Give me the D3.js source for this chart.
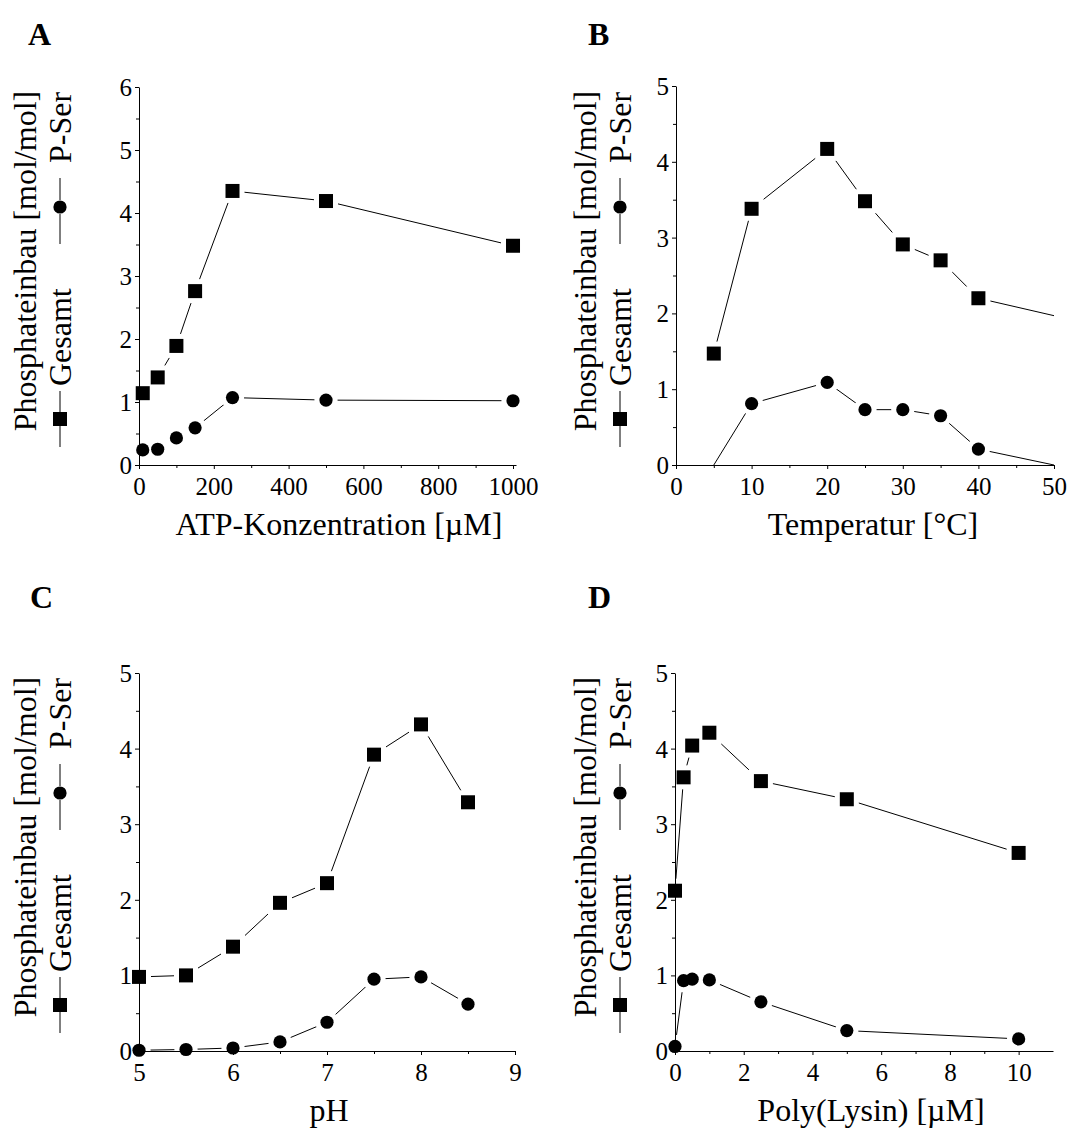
<!DOCTYPE html>
<html><head><meta charset="utf-8">
<script src="https://cdn.jsdelivr.net/npm/d3@7"></script>
<style>
body{margin:0;background:#fff}
svg text{font-family:"Liberation Serif","Times New Roman",serif !important;fill:#000}
</style>
</head><body>
<svg id="c" width="1069" height="1129" font-family="Liberation Serif"></svg>
<script>
// ---------- data ----------
const panelLetters = ["A", "B", "C", "D"];
const xTitles = ["ATP-Konzentration [µM]", "Temperatur [°C]", "pH", "Poly(Lysin) [µM]"];
const yTitle = "Phosphateinbau [mol/mol]";
const seriesNames = ["Gesamt", "P-Ser"];

const atpX       = [10, 50, 100, 150, 250, 500, 1000];
const atpGesamt  = [1.14, 1.39, 1.89, 2.76, 4.35, 4.19, 3.48];
const atpPSer    = [0.24, 0.25, 0.43, 0.59, 1.07, 1.03, 1.02];
const atpGShown  = [1, 1, 1, 1, 1, 1, 1];
const atpPShown  = [1, 1, 1, 1, 1, 1, 1];

const tempX      = [5, 10, 20, 25, 30, 35, 40, 50];
const tempGesamt = [1.47, 3.38, 4.17, 3.48, 2.91, 2.70, 2.20, 1.97];
const tempPSer   = [0.00, 0.81, 1.09, 0.73, 0.73, 0.65, 0.21, 0.00];
const tempGShown = [1, 1, 1, 1, 1, 1, 1, 0];
const tempPShown = [0, 1, 1, 1, 1, 1, 1, 0];

const phX        = [5, 5.5, 6, 6.5, 7, 7.5, 8, 8.5];
const phGesamt   = [0.98, 1.00, 1.38, 1.96, 2.22, 3.92, 4.32, 3.29];
const phPSer     = [0.01, 0.02, 0.04, 0.12, 0.38, 0.95, 0.98, 0.62];
const phGShown   = [1, 1, 1, 1, 1, 1, 1, 1];
const phPShown   = [1, 1, 1, 1, 1, 1, 1, 1];

const polyX      = [0, 0.25, 0.5, 1, 2.5, 5, 10];
const polyGesamt = [2.12, 3.62, 4.04, 4.21, 3.57, 3.33, 2.62];
const polyPSer   = [0.06, 0.93, 0.95, 0.94, 0.65, 0.27, 0.16];
const polyGShown = [1, 1, 1, 1, 1, 1, 1];
const polyPShown = [1, 1, 1, 1, 1, 1, 1];

// tick labels
const atpTicks   = [0, 200, 400, 600, 800, 1000];
const atpMinor   = [100, 300, 500, 700, 900];
const tempTicks  = [0, 10, 20, 30, 40, 50];
const tempMinor  = [5, 15, 25, 35, 45];
const phTicks    = [5, 6, 7, 8, 9];
const phMinor    = [5.5, 6.5, 7.5, 8.5];
const polyTicks  = [0, 2, 4, 6, 8, 10];
const polyMinor  = [1, 3, 5, 7, 9];
const yTicks6    = [0, 1, 2, 3, 4, 5, 6];
const yMinor6    = [0.5, 1.5, 2.5, 3.5, 4.5, 5.5];
const yTicks5    = [0, 1, 2, 3, 4, 5];
const yMinor5    = [0.5, 1.5, 2.5, 3.5, 4.5];

// ---------- layout ----------
const panels = [
  {xs: atpX, g: atpGesamt, p: atpPSer, gs: atpGShown, ps: atpPShown,
   xd: [0, 1008], xr: [139, 516], yd: [0, 6], yr: [465, 87],
   xt: atpTicks, xm: atpMinor, yt: yTicks6, ym: yMinor6,
   titleX: 339, letterX: 28, letterY: 45, yTitleX: 36, legendX: 60, yMid: 261, legStart: 447},
  {xs: tempX, g: tempGesamt, p: tempPSer, gs: tempGShown, ps: tempPShown,
   xd: [0, 50], xr: [676, 1054], yd: [0, 5], yr: [465, 86],
   xt: tempTicks, xm: tempMinor, yt: yTicks5, ym: yMinor5,
   titleX: 873, letterX: 588, letterY: 45, yTitleX: 596, legendX: 620, yMid: 261, legStart: 447},
  {xs: phX, g: phGesamt, p: phPSer, gs: phGShown, ps: phPShown,
   xd: [5, 9], xr: [139, 515], yd: [0, 5], yr: [1051, 673],
   xt: phTicks, xm: phMinor, yt: yTicks5, ym: yMinor5,
   titleX: 329, letterX: 30, letterY: 608, yTitleX: 36, legendX: 60, yMid: 847, legStart: 1033},
  {xs: polyX, g: polyGesamt, p: polyPSer, gs: polyGShown, ps: polyPShown,
   xd: [0, 11], xr: [675, 1053], yd: [0, 5], yr: [1051, 673],
   xt: polyTicks, xm: polyMinor, yt: yTicks5, ym: yMinor5,
   titleX: 871, letterX: 588, letterY: 608, yTitleX: 596, legendX: 620, yMid: 847, legStart: 1033}
];

const FONT = '"Liberation Serif", "Times New Roman", serif';
const SQ = 14, CR = 6.6, HALO = 5;
const svg = d3.select("#c");

function square(sel, cx, cy, s, fill) {
  sel.append("rect").attr("x", cx - s / 2).attr("y", cy - s / 2)
     .attr("width", s).attr("height", s).attr("fill", fill);
}
function circle(sel, cx, cy, r, fill) {
  sel.append("circle").attr("cx", cx).attr("cy", cy).attr("r", r).attr("fill", fill);
}

panels.forEach((P, i) => {
  const g = svg.append("g");
  const x = d3.scaleLinear().domain(P.xd).range(P.xr);
  const y = d3.scaleLinear().domain(P.yd).range(P.yr);
  const gData = P.xs.map((v, k) => [v, P.g[k], P.gs[k]]);
  const pData = P.xs.map((v, k) => [v, P.p[k], P.ps[k]]);
  const line = d3.line().x(d => x(d[0])).y(d => y(d[1]));

  // lines
  [gData, pData].forEach(dat => {
    g.append("path").attr("d", line(dat)).attr("fill", "none")
     .attr("stroke", "#000").attr("stroke-width", 1);
  });

  // halos
  const halo = g.append("g");
  gData.filter(d => d[2]).forEach(d => square(halo, x(d[0]), y(d[1]), SQ + 2 * HALO, "#fff"));
  pData.filter(d => d[2]).forEach(d => circle(halo, x(d[0]), y(d[1]), CR + HALO, "#fff"));

  // axes
  const y0 = P.yr[0], x0 = P.xr[0];
  const xa = g.append("g").attr("transform", `translate(0,${y0})`)
    .call(d3.axisBottom(x).tickValues(P.xt).tickSize(4).tickSizeOuter(0).tickFormat(d3.format("~g")));
  xa.selectAll("text").attr("y", 30).attr("dy", 0).style("font-size", "25px");
  g.append("g").attr("transform", `translate(0,${y0})`)
    .call(d3.axisBottom(x).tickValues(P.xm).tickSize(3).tickFormat(""))
    .select(".domain").remove();
  const ya = g.append("g").attr("transform", `translate(${x0},0)`)
    .call(d3.axisLeft(y).tickValues(P.yt).tickSize(4).tickPadding(3).tickSizeOuter(0).tickFormat(d3.format("d")));
  ya.selectAll("text").style("font-size", "25px").attr("dy", "0.34em");
  g.append("g").attr("transform", `translate(${x0},0)`)
    .call(d3.axisLeft(y).tickValues(P.ym).tickSize(3).tickFormat(""))
    .select(".domain").remove();
  g.selectAll(".domain, .tick line").attr("stroke", "#000");
  g.selectAll("g").attr("font-family", FONT);

  // markers
  gData.filter(d => d[2]).forEach(d => square(g, x(d[0]), y(d[1]), SQ, "#000"));
  pData.filter(d => d[2]).forEach(d => circle(g, x(d[0]), y(d[1]), CR, "#000"));

  // x title
  g.append("text").attr("x", P.titleX).attr("y", y0 + 70).attr("text-anchor", "middle")
   .style("font-size", "32px").text(xTitles[i]);

  // panel letter
  g.append("text").attr("x", P.letterX).attr("y", P.letterY)
   .style("font-size", "32px").style("font-weight", "bold").text(panelLetters[i]);

  // y title
  g.append("text").attr("transform", `translate(${P.yTitleX},${P.yMid}) rotate(-90)`)
   .attr("text-anchor", "middle").style("font-size", "32px").text(yTitle);

  // legend line (rotated)
  const L = g.append("g").attr("transform", `translate(${P.legendX},${P.legStart}) rotate(-90)`);
  const seg = (a, b) => L.append("line").attr("x1", a).attr("x2", b).attr("y1", 0).attr("y2", 0)
      .attr("stroke", "#000").attr("stroke-width", 1);
  seg(0, 21); square(L, 28, 0, SQ, "#000"); seg(35, 56);
  L.append("text").attr("x", 61).attr("y", 10.5).style("font-size", "32px").text(seriesNames[0]);
  seg(203, 233); circle(L, 240, 0, CR, "#000"); seg(247, 269);
  L.append("text").attr("x", 284).attr("y", 10.5).style("font-size", "32px").text(seriesNames[1]);

  svg.selectAll("text").style("font-family", FONT);
});
</script>
</body></html>
